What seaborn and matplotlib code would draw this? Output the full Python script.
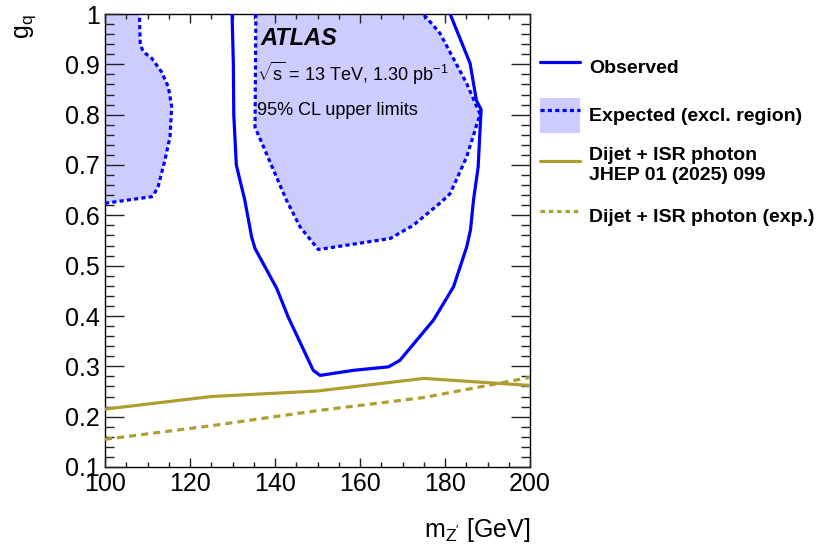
import matplotlib
matplotlib.use('Agg')
import matplotlib.pyplot as plt
import matplotlib.patches as mpatches
from matplotlib.lines import Line2D
from matplotlib.legend_handler import HandlerPatch, HandlerTuple
from matplotlib.ticker import MultipleLocator, FuncFormatter
import seaborn as sns

# ── Data ──────────────────────────────────────────────────────────────────────
obs_m = [129.9, 130.2, 130.3, 130.9, 132.9, 134.5, 135.3, 140.4, 143.1, 149.0,
         150.6, 158.4, 166.7, 169.4, 177.3, 182.0, 185.1, 186.0, 186.7, 187.8,
         188.2, 188.5, 187.4, 185.9, 181.2]
obs_g = [1.000, 0.900, 0.800, 0.700, 0.630, 0.557, 0.534, 0.455, 0.398, 0.292,
         0.282, 0.292, 0.299, 0.312, 0.392, 0.458, 0.537, 0.571, 0.630, 0.696,
         0.763, 0.810, 0.828, 0.902, 1.000]

exp_right_m = [135.5, 135.3, 137.3, 142.7, 145.9, 150.2, 167.1, 172.5, 179.2,
               181.2, 185.1, 187.8, 188.3, 185.1, 178.8, 174.9]
exp_right_g = [1.000, 0.775, 0.736, 0.630, 0.577, 0.532, 0.554, 0.580, 0.627,
               0.643, 0.716, 0.789, 0.800, 0.862, 0.962, 1.000]

exp_left_m = [100.0, 111.0, 111.4, 112.5, 114.1, 115.3, 115.7, 114.9, 113.3,
              111.0, 109.0, 108.3, 108.1]
exp_left_g = [0.624, 0.637, 0.640, 0.657, 0.710, 0.756, 0.816, 0.855, 0.885,
              0.912, 0.925, 0.940, 1.000]

isr_m = [100, 125, 150, 175, 200]
isr_obs_g = [0.215, 0.240, 0.251, 0.276, 0.262]
isr_exp_g = [0.155, 0.182, 0.212, 0.238, 0.278]

legend_labels = ['Observed', 'Expected (excl. region)',
                 'Dijet + ISR photon\nJHEP 01 (2025) 099',
                 'Dijet + ISR photon (exp.)']

BLUE = '#0000ff'
FILL = '#ccccff'
GOLD = '#ad9e2f'
BLUE_DASH = (0, (1.3, 1.0))
GOLD_DASH = (0, (2.2, 1.6))

# ── Style ─────────────────────────────────────────────────────────────────────
sns.set_theme(style='ticks')
plt.rcParams['font.family'] = ['Liberation Sans', 'DejaVu Sans']
plt.rcParams['mathtext.fontset'] = 'custom'
plt.rcParams['mathtext.rm'] = 'Liberation Sans'
plt.rcParams['mathtext.it'] = 'Liberation Sans:italic'
plt.rcParams['mathtext.bf'] = 'Liberation Sans:bold'
for k in ['text.color', 'axes.labelcolor', 'xtick.color', 'ytick.color']:
    plt.rcParams[k] = 'black'

fig = plt.figure(figsize=(8.19, 5.5), dpi=100)
ax = fig.add_axes([105 / 819, 1 - 467 / 550, 425 / 819, 453 / 550])
ax.set_axisbelow(False)

# ── Expected exclusion regions ────────────────────────────────────────────────
ax.fill(exp_left_m + [100.0], exp_left_g + [1.0], color=FILL, lw=0, zorder=1)
ax.fill(exp_right_m, exp_right_g, color=FILL, lw=0, zorder=1)
sns.lineplot(x=exp_left_m, y=exp_left_g, sort=False, estimator=None, ax=ax,
             color=BLUE, lw=2.3, linestyle=BLUE_DASH, zorder=3)
sns.lineplot(x=exp_right_m, y=exp_right_g, sort=False, estimator=None, ax=ax,
             color=BLUE, lw=2.3, linestyle=BLUE_DASH, zorder=3)

# ── Observed contour ──────────────────────────────────────────────────────────
sns.lineplot(x=obs_m, y=obs_g, sort=False, estimator=None, ax=ax,
             color=BLUE, lw=2.3, zorder=4)

# ── Dijet + ISR photon ────────────────────────────────────────────────────────
sns.lineplot(x=isr_m, y=isr_obs_g, sort=False, estimator=None, ax=ax,
             color=GOLD, lw=2.3, zorder=4)
sns.lineplot(x=isr_m, y=isr_exp_g, sort=False, estimator=None, ax=ax,
             color=GOLD, lw=2.3, linestyle=GOLD_DASH, zorder=4)

# ── Axes ──────────────────────────────────────────────────────────────────────
ax.set_xlim(100, 200)
ax.set_ylim(0.1, 1.0)
ax.xaxis.set_major_locator(MultipleLocator(20))
ax.xaxis.set_minor_locator(MultipleLocator(5))
ax.yaxis.set_major_locator(MultipleLocator(0.1))
ax.yaxis.set_minor_locator(MultipleLocator(0.02))
ax.yaxis.set_major_formatter(FuncFormatter(
    lambda v, p: '1' if v > 0.999 else f'{v:.1f}'))
ax.xaxis.set_ticks_position('both')
ax.yaxis.set_ticks_position('both')
ax.tick_params(which='both', direction='in', left=True, bottom=True,
               top=True, right=True, width=1.0, color='#222222',
               labelcolor='black', labelsize=18, pad=3.5,
               labelleft=True, labelbottom=True,
               labeltop=False, labelright=False)
ax.tick_params(axis='x', which='major', length=6.8)
ax.tick_params(axis='x', which='minor', length=3.3)
ax.tick_params(axis='y', which='major', length=13.7)
ax.tick_params(axis='y', which='minor', length=6.8)
for s in ax.spines.values():
    s.set_visible(True)
    s.set_color('black')
    s.set_linewidth(1.0)

ax.set_xlabel(r"m$_{\mathregular{Z'}}$ [GeV]", fontsize=18, loc='right')
ax.xaxis.set_label_coords(1.0, -0.108)
ax.set_ylabel(r'g$_{\mathregular{q}}$', fontsize=18, loc='top')
ax.yaxis.set_label_coords(-0.157, 1.0)

# ── Labels inside ─────────────────────────────────────────────────────────────
ax.text(0.365, 0.932, 'ATLAS', transform=ax.transAxes, fontsize=17,
        fontweight='bold', fontstyle='italic', va='baseline', zorder=6)
ax.text(0.358, 0.851, r'$\sqrt{\mathregular{s}}$ = 13 TeV, 1.30 pb$^{\mathregular{-1}}$',
        transform=ax.transAxes, fontsize=13, va='baseline', zorder=6)
ax.text(0.358, 0.777, '95% CL upper limits', transform=ax.transAxes,
        fontsize=13, va='baseline', zorder=6)

# ── Legend ────────────────────────────────────────────────────────────────────
def small_box(legend, orig_handle, xdescent, ydescent, width, height, fontsize):
    h = 1.8 * fontsize
    return mpatches.Rectangle((-xdescent, -ydescent + (height - h) / 2), width, h)

h_obs = Line2D([], [], color=BLUE, lw=2.3)
h_exp = (mpatches.Patch(facecolor=FILL, edgecolor='none'),
         Line2D([], [], color=BLUE, lw=2.3, linestyle=BLUE_DASH))
h_isr = Line2D([], [], color=GOLD, lw=2.3)
h_isr_exp = Line2D([], [], color=GOLD, lw=2.3, linestyle=(0, (1.4, 1.2)))

leg = ax.legend([h_obs, h_exp, h_isr, h_isr_exp], legend_labels,
                loc='upper left', bbox_to_anchor=(540 / 819, 1 - 51 / 550),
                bbox_transform=fig.transFigure, frameon=False,
                prop={'size': 14, 'weight': 'bold'},
                handlelength=2.06, handleheight=2.2, handletextpad=0.45,
                labelspacing=0.8, borderpad=0, borderaxespad=0,
                handler_map={mpatches.Patch: HandlerPatch(patch_func=small_box),
                             tuple: HandlerTuple(ndivide=1, pad=0)})
for t in leg.get_texts():
    t.set_color('black')

fig.savefig('out.png', dpi=100)
